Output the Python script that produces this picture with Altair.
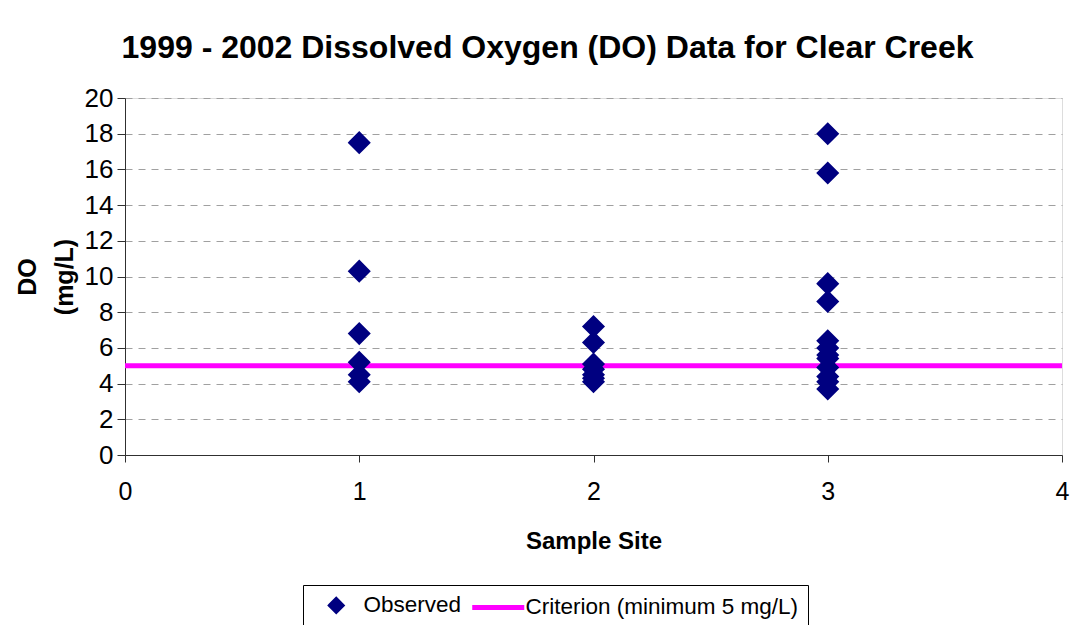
import altair as alt
import pandas as pd

site1 = [17.5, 10.3, 6.8, 5.2, 4.5, 4.1]
site2 = [7.2, 6.3, 5.1, 4.8, 4.5, 4.3, 4.1]
site3 = [18.0, 15.8, 9.6, 8.6, 6.4, 6.0, 5.6, 5.4, 4.9, 4.4, 4.1, 3.7]
criterion = 5
series_names = ["Observed", "Criterion (minimum 5 mg/L)"]
series_colors = ["#000080", "#ff00ff"]
series_shapes = ["diamond", "M-4.73,0H4.73"]
x_ticks = [0, 1, 2, 3, 4]
y_ticks = [0, 2, 4, 6, 8, 10, 12, 14, 16, 18, 20]

rows = []
for s, vals in zip([1, 2, 3], [site1, site2, site3]):
    for v in vals:
        rows.append({"site": s, "do": v, "series": "Observed"})
obs = pd.DataFrame(rows)
crit = pd.DataFrame({"site": [0], "site2": [4], "do": [criterion]})

FONT = "Liberation Sans"
AX = "#303030"

x_scale = alt.Scale(domain=[0, 4], nice=False)
y_scale = alt.Scale(domain=[0, 20], nice=False)

x_axis = alt.Axis(title="Sample Site", values=x_ticks, format="d",
                  grid=False, tickSize=7, tickColor=AX, domainColor=AX,
                  labelFontSize=25, labelPadding=17, titleFontSize=24,
                  titleFontWeight="bold", titlePadding=25, labelColor="black",
                  titleColor="black", labelFont=FONT, titleFont=FONT,
                  labelFlush=False, labelOverlap=False)
y_axis = alt.Axis(title=["DO", "(mg/L)"], values=y_ticks, tickCount=11,
                  grid=True, gridDash=[7, 6], gridColor="#a0a0a0", gridWidth=1,
                  tickSize=8, tickColor=AX, domainColor=AX,
                  labelFontSize=26, labelPadding=4, titleFontSize=25,
                  titleFontWeight="bold", titlePadding=7, labelColor="black",
                  titleColor="black", titleLineHeight=37, labelFont=FONT,
                  titleFont=FONT, labelOverlap=False, labelFlush=False)

legend = alt.Legend(
    title=None, orient="none", legendX=178, legendY=487,
    direction="horizontal", columns=2, labelFontSize=22.5,
    labelFont=FONT, labelColor="black", strokeColor="black",
    padding=9, columnPadding=0, labelOffset=16, symbolSize=121,
    symbolStrokeWidth=5, fillColor="white", symbolOpacity=1,
    symbolOffset=13, labelLimit=0)

points = alt.Chart(obs).mark_point(filled=False, size=256, strokeWidth=5, opacity=1).encode(
    x=alt.X("site:Q", scale=x_scale, axis=x_axis),
    y=alt.Y("do:Q", scale=y_scale, axis=y_axis),
    color=alt.Color("series:N", scale=alt.Scale(domain=series_names, range=series_colors),
                    legend=legend),
    fill=alt.Fill("series:N", scale=alt.Scale(domain=series_names, range=series_colors),
                  legend=legend),
    shape=alt.Shape("series:N", scale=alt.Scale(domain=series_names, range=series_shapes),
                    legend=legend),
)

line = alt.Chart(crit).mark_rule(color="#ff00ff", strokeWidth=5).encode(
    x=alt.X("site:Q", scale=x_scale, axis=x_axis),
    x2="site2:Q",
    y=alt.Y("do:Q", scale=y_scale, axis=y_axis),
)

chart = alt.layer(line, points).properties(
    width=937, height=357,
    title=alt.TitleParams("1999 - 2002 Dissolved Oxygen (DO) Data for Clear Creek",
                          fontSize=32, font=FONT, fontWeight="bold", color="black",
                          anchor="middle", dx=-46, offset=20),
    padding={"left": 117, "top": 90, "right": 9, "bottom": 170},
    autosize="none",
).configure_view(stroke="#8c8c8c", strokeWidth=2).configure(background="white")

chart.save("out.html", embed_options={"renderer": "svg", "actions": False})
